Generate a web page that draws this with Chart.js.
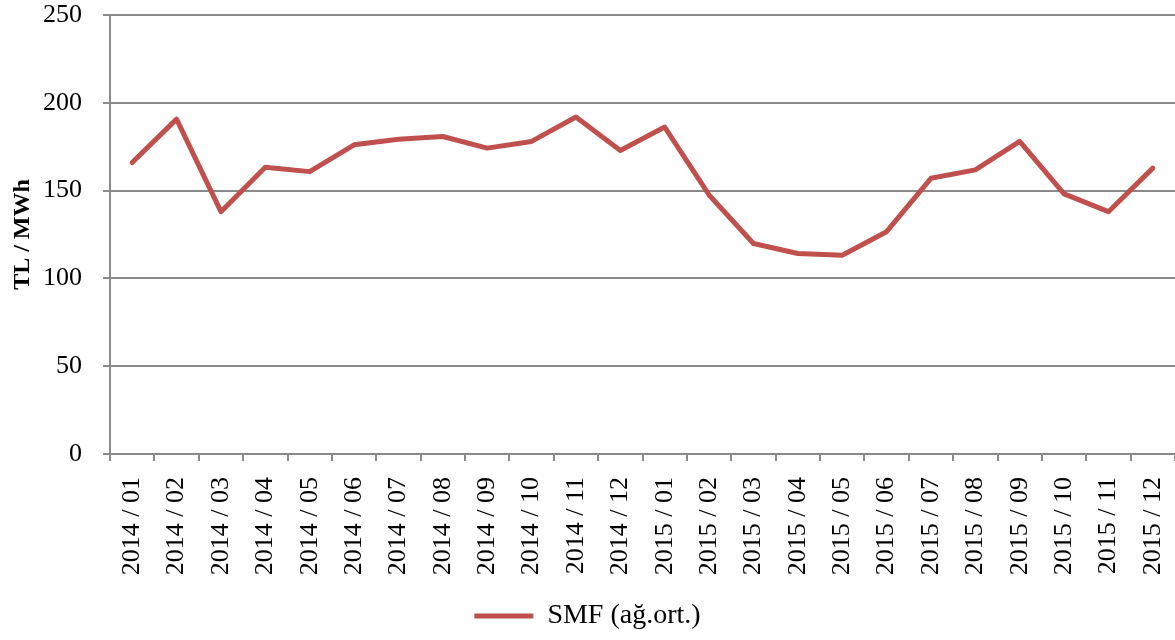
<!DOCTYPE html>
<html>
<head>
<meta charset="utf-8">
<script src="https://cdn.jsdelivr.net/npm/chart.js@4.4.1/dist/chart.umd.min.js"></script>
<style>
  html, body { margin: 0; padding: 0; background: #ffffff; }
  #wrap { width: 1175px; height: 640px; position: relative; }
</style>
</head>
<body>
<div id="wrap"><canvas id="c"></canvas></div>
<script>
const categories = [
  "2014 / 01","2014 / 02","2014 / 03","2014 / 04","2014 / 05","2014 / 06",
  "2014 / 07","2014 / 08","2014 / 09","2014 / 10","2014 / 11","2014 / 12",
  "2015 / 01","2015 / 02","2015 / 03","2015 / 04","2015 / 05","2015 / 06",
  "2015 / 07","2015 / 08","2015 / 09","2015 / 10","2015 / 11","2015 / 12"
];
const smfValues = [
  166.0, 190.7, 138.0, 163.3, 160.8, 176.1,
  179.3, 180.8, 174.2, 178.0, 191.9, 172.8,
  186.2, 147.5, 119.9, 114.2, 113.2, 126.6,
  157.0, 161.8, 178.0, 148.1, 138.0, 162.8
];
const seriesLabel = "SMF (ağ.ort.)";
const yAxisTitle = "TL / MWh";
const yTicks = [0, 50, 100, 150, 200, 250];

const FONT = "'Liberation Serif', 'Times New Roman', serif";
const GRID = "#8a8a8a";

new Chart(document.getElementById('c'), {
  type: 'line',
  data: {
    labels: categories,
    datasets: [{
      label: seriesLabel,
      data: smfValues,
      borderColor: '#C0504D',
      backgroundColor: '#C0504D',
      borderWidth: 5,
      borderCapStyle: 'round',
      borderJoinStyle: 'round',
      tension: 0,
      pointRadius: 0,
      pointHoverRadius: 0,
      pointStyle: 'line',
      fill: false
    }]
  },
  options: {
    responsive: true,
    maintainAspectRatio: false,
    animation: false,
    devicePixelRatio: 1,
    layout: { padding: { top: 15, left: 0, right: 0, bottom: 0 } },
    plugins: {
      tooltip: { enabled: false },
      legend: {
        position: 'bottom',
        labels: {
          color: '#000',
          font: { family: FONT, size: 28 },
          usePointStyle: true,
          pointStyleWidth: 59,
          boxHeight: 5,
          padding: 9
        }
      }
    },
    scales: {
      x: {
        offset: true,
        border: { display: true, color: GRID, width: 2 },
        grid: {
          offset: true,
          drawOnChartArea: false,
          drawTicks: true,
          tickLength: 7,
          color: GRID,
          lineWidth: 2
        },
        ticks: {
          autoSkip: false,
          maxRotation: 90,
          minRotation: 90,
          padding: 16,
          color: '#000',
          font: { family: FONT, size: 26 }
        },
        afterFit: (s) => { s.height = 139; s.paddingLeft = 0; s.paddingRight = 0; }
      },
      y: {
        min: 0,
        max: 250,
        afterBuildTicks: (s) => { s.ticks = yTicks.map(v => ({ value: v })); },
        border: { display: true, color: GRID, width: 2 },
        grid: {
          color: GRID,
          lineWidth: 2,
          tickLength: 7,
          drawTicks: true
        },
        ticks: {
          padding: 21,
          color: '#000',
          font: { family: FONT, size: 26 }
        },
        title: {
          display: true,
          text: yAxisTitle,
          color: '#000',
          font: { family: FONT, size: 24, weight: 'bold' },
          padding: { top: 8, bottom: 0 }
        },
        afterFit: (s) => { s.width = 110; s.paddingTop = 0; s.paddingBottom = 0; }
      }
    }
  }
});
</script>
</body>
</html>
